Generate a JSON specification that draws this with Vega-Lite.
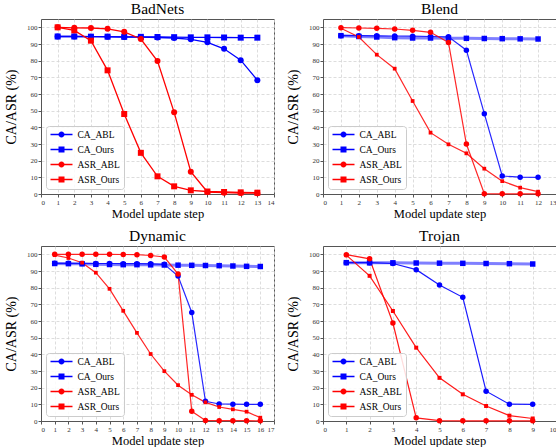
{
  "$schema": "https://vega.github.io/schema/vega-lite/v6.json",
  "padding": {"left": 4, "top": 1, "right": 0, "bottom": 0},
  "data": {"values": [
    {"d":"BadNets","k":"CA_ABL","s":1,"v":94.5},{"d":"BadNets","k":"CA_ABL","s":2,"v":94.5},{"d":"BadNets","k":"CA_ABL","s":3,"v":94.4},{"d":"BadNets","k":"CA_ABL","s":4,"v":94.3},{"d":"BadNets","k":"CA_ABL","s":5,"v":94.2},{"d":"BadNets","k":"CA_ABL","s":6,"v":94.1},{"d":"BadNets","k":"CA_ABL","s":7,"v":93.9},{"d":"BadNets","k":"CA_ABL","s":8,"v":93.6},{"d":"BadNets","k":"CA_ABL","s":9,"v":92.8},{"d":"BadNets","k":"CA_ABL","s":10,"v":91.0},{"d":"BadNets","k":"CA_ABL","s":11,"v":87.1},{"d":"BadNets","k":"CA_ABL","s":12,"v":80.3},{"d":"BadNets","k":"CA_ABL","s":13,"v":68.3},
    {"d":"BadNets","k":"CA_Ours","s":1,"v":94.5},{"d":"BadNets","k":"CA_Ours","s":2,"v":94.5},{"d":"BadNets","k":"CA_Ours","s":3,"v":94.4},{"d":"BadNets","k":"CA_Ours","s":4,"v":94.4},{"d":"BadNets","k":"CA_Ours","s":5,"v":94.3},{"d":"BadNets","k":"CA_Ours","s":6,"v":94.3},{"d":"BadNets","k":"CA_Ours","s":7,"v":94.2},{"d":"BadNets","k":"CA_Ours","s":8,"v":94.1},{"d":"BadNets","k":"CA_Ours","s":9,"v":94.0},{"d":"BadNets","k":"CA_Ours","s":10,"v":94.0},{"d":"BadNets","k":"CA_Ours","s":11,"v":93.9},{"d":"BadNets","k":"CA_Ours","s":12,"v":93.8},{"d":"BadNets","k":"CA_Ours","s":13,"v":93.8},
    {"d":"BadNets","k":"ASR_ABL","s":1,"v":100},{"d":"BadNets","k":"ASR_ABL","s":2,"v":99.7},{"d":"BadNets","k":"ASR_ABL","s":3,"v":99.6},{"d":"BadNets","k":"ASR_ABL","s":4,"v":99.1},{"d":"BadNets","k":"ASR_ABL","s":5,"v":97.3},{"d":"BadNets","k":"ASR_ABL","s":6,"v":93.0},{"d":"BadNets","k":"ASR_ABL","s":7,"v":79.8},{"d":"BadNets","k":"ASR_ABL","s":8,"v":49.0},{"d":"BadNets","k":"ASR_ABL","s":9,"v":13.4},{"d":"BadNets","k":"ASR_ABL","s":10,"v":1.2},{"d":"BadNets","k":"ASR_ABL","s":11,"v":0.8},{"d":"BadNets","k":"ASR_ABL","s":12,"v":0.6},{"d":"BadNets","k":"ASR_ABL","s":13,"v":0.5},
    {"d":"BadNets","k":"ASR_Ours","s":1,"v":100},{"d":"BadNets","k":"ASR_Ours","s":2,"v":98.2},{"d":"BadNets","k":"ASR_Ours","s":3,"v":92.0},{"d":"BadNets","k":"ASR_Ours","s":4,"v":74.2},{"d":"BadNets","k":"ASR_Ours","s":5,"v":48.0},{"d":"BadNets","k":"ASR_Ours","s":6,"v":24.7},{"d":"BadNets","k":"ASR_Ours","s":7,"v":10.6},{"d":"BadNets","k":"ASR_Ours","s":8,"v":4.6},{"d":"BadNets","k":"ASR_Ours","s":9,"v":2.2},{"d":"BadNets","k":"ASR_Ours","s":10,"v":1.5},{"d":"BadNets","k":"ASR_Ours","s":11,"v":1.2},{"d":"BadNets","k":"ASR_Ours","s":12,"v":1.0},{"d":"BadNets","k":"ASR_Ours","s":13,"v":0.8},

    {"d":"Blend","k":"CA_ABL","s":1,"v":95.0},{"d":"Blend","k":"CA_ABL","s":2,"v":95.0},{"d":"Blend","k":"CA_ABL","s":3,"v":94.9},{"d":"Blend","k":"CA_ABL","s":4,"v":94.8},{"d":"Blend","k":"CA_ABL","s":5,"v":94.7},{"d":"Blend","k":"CA_ABL","s":6,"v":94.5},{"d":"Blend","k":"CA_ABL","s":7,"v":94.3},{"d":"Blend","k":"CA_ABL","s":8,"v":86.3},{"d":"Blend","k":"CA_ABL","s":9,"v":48.2},{"d":"Blend","k":"CA_ABL","s":10,"v":10.8},{"d":"Blend","k":"CA_ABL","s":11,"v":10.1},{"d":"Blend","k":"CA_ABL","s":12,"v":10.0},
    {"d":"Blend","k":"CA_Ours","s":1,"v":95.0},{"d":"Blend","k":"CA_Ours","s":2,"v":94.5},{"d":"Blend","k":"CA_Ours","s":3,"v":94.2},{"d":"Blend","k":"CA_Ours","s":4,"v":93.8},{"d":"Blend","k":"CA_Ours","s":5,"v":93.6},{"d":"Blend","k":"CA_Ours","s":6,"v":93.6},{"d":"Blend","k":"CA_Ours","s":7,"v":93.5},{"d":"Blend","k":"CA_Ours","s":8,"v":93.4},{"d":"Blend","k":"CA_Ours","s":9,"v":93.3},{"d":"Blend","k":"CA_Ours","s":10,"v":93.2},{"d":"Blend","k":"CA_Ours","s":11,"v":93.1},{"d":"Blend","k":"CA_Ours","s":12,"v":93.0},
    {"d":"Blend","k":"ASR_ABL","s":1,"v":99.8},{"d":"Blend","k":"ASR_ABL","s":2,"v":99.6},{"d":"Blend","k":"ASR_ABL","s":3,"v":99.4},{"d":"Blend","k":"ASR_ABL","s":4,"v":99.0},{"d":"Blend","k":"ASR_ABL","s":5,"v":98.2},{"d":"Blend","k":"ASR_ABL","s":6,"v":97.0},{"d":"Blend","k":"ASR_ABL","s":7,"v":90.9},{"d":"Blend","k":"ASR_ABL","s":8,"v":30.0},{"d":"Blend","k":"ASR_ABL","s":9,"v":0.2},{"d":"Blend","k":"ASR_ABL","s":10,"v":0.1},{"d":"Blend","k":"ASR_ABL","s":11,"v":0.1},{"d":"Blend","k":"ASR_ABL","s":12,"v":0.1},
    {"d":"Blend","k":"ASR_Ours","s":1,"v":99.5},{"d":"Blend","k":"ASR_Ours","s":2,"v":94.2},{"d":"Blend","k":"ASR_Ours","s":3,"v":83.6},{"d":"Blend","k":"ASR_Ours","s":4,"v":75.2},{"d":"Blend","k":"ASR_Ours","s":5,"v":55.8},{"d":"Blend","k":"ASR_Ours","s":6,"v":36.8},{"d":"Blend","k":"ASR_Ours","s":7,"v":29.8},{"d":"Blend","k":"ASR_Ours","s":8,"v":24.4},{"d":"Blend","k":"ASR_Ours","s":9,"v":15.2},{"d":"Blend","k":"ASR_Ours","s":10,"v":7.7},{"d":"Blend","k":"ASR_Ours","s":11,"v":3.8},{"d":"Blend","k":"ASR_Ours","s":12,"v":1.4},

    {"d":"Dynamic","k":"CA_ABL","s":1,"v":94.6},{"d":"Dynamic","k":"CA_ABL","s":2,"v":94.6},{"d":"Dynamic","k":"CA_ABL","s":3,"v":94.5},{"d":"Dynamic","k":"CA_ABL","s":4,"v":94.5},{"d":"Dynamic","k":"CA_ABL","s":5,"v":94.5},{"d":"Dynamic","k":"CA_ABL","s":6,"v":94.4},{"d":"Dynamic","k":"CA_ABL","s":7,"v":94.4},{"d":"Dynamic","k":"CA_ABL","s":8,"v":94.3},{"d":"Dynamic","k":"CA_ABL","s":9,"v":94.0},{"d":"Dynamic","k":"CA_ABL","s":10,"v":87.0},{"d":"Dynamic","k":"CA_ABL","s":11,"v":65.1},{"d":"Dynamic","k":"CA_ABL","s":12,"v":11.8},{"d":"Dynamic","k":"CA_ABL","s":13,"v":10.2},{"d":"Dynamic","k":"CA_ABL","s":14,"v":10.1},{"d":"Dynamic","k":"CA_ABL","s":15,"v":10.0},{"d":"Dynamic","k":"CA_ABL","s":16,"v":10.0},
    {"d":"Dynamic","k":"CA_Ours","s":1,"v":94.5},{"d":"Dynamic","k":"CA_Ours","s":2,"v":94.4},{"d":"Dynamic","k":"CA_Ours","s":3,"v":94.3},{"d":"Dynamic","k":"CA_Ours","s":4,"v":94.0},{"d":"Dynamic","k":"CA_Ours","s":5,"v":93.9},{"d":"Dynamic","k":"CA_Ours","s":6,"v":93.8},{"d":"Dynamic","k":"CA_Ours","s":7,"v":93.8},{"d":"Dynamic","k":"CA_Ours","s":8,"v":93.7},{"d":"Dynamic","k":"CA_Ours","s":9,"v":93.6},{"d":"Dynamic","k":"CA_Ours","s":10,"v":93.5},{"d":"Dynamic","k":"CA_Ours","s":11,"v":93.4},{"d":"Dynamic","k":"CA_Ours","s":12,"v":93.3},{"d":"Dynamic","k":"CA_Ours","s":13,"v":93.2},{"d":"Dynamic","k":"CA_Ours","s":14,"v":93.0},{"d":"Dynamic","k":"CA_Ours","s":15,"v":92.8},{"d":"Dynamic","k":"CA_Ours","s":16,"v":92.7},
    {"d":"Dynamic","k":"ASR_ABL","s":1,"v":100},{"d":"Dynamic","k":"ASR_ABL","s":2,"v":100},{"d":"Dynamic","k":"ASR_ABL","s":3,"v":100},{"d":"Dynamic","k":"ASR_ABL","s":4,"v":100},{"d":"Dynamic","k":"ASR_ABL","s":5,"v":100},{"d":"Dynamic","k":"ASR_ABL","s":6,"v":99.9},{"d":"Dynamic","k":"ASR_ABL","s":7,"v":99.8},{"d":"Dynamic","k":"ASR_ABL","s":8,"v":99.3},{"d":"Dynamic","k":"ASR_ABL","s":9,"v":98.4},{"d":"Dynamic","k":"ASR_ABL","s":10,"v":88.2},{"d":"Dynamic","k":"ASR_ABL","s":11,"v":5.8},{"d":"Dynamic","k":"ASR_ABL","s":12,"v":0.3},{"d":"Dynamic","k":"ASR_ABL","s":13,"v":0.2},{"d":"Dynamic","k":"ASR_ABL","s":14,"v":0.2},{"d":"Dynamic","k":"ASR_ABL","s":15,"v":0.2},{"d":"Dynamic","k":"ASR_ABL","s":16,"v":0.1},
    {"d":"Dynamic","k":"ASR_Ours","s":1,"v":99.5},{"d":"Dynamic","k":"ASR_Ours","s":2,"v":97.8},{"d":"Dynamic","k":"ASR_Ours","s":3,"v":95.0},{"d":"Dynamic","k":"ASR_Ours","s":4,"v":89.0},{"d":"Dynamic","k":"ASR_Ours","s":5,"v":79.3},{"d":"Dynamic","k":"ASR_Ours","s":6,"v":66.1},{"d":"Dynamic","k":"ASR_Ours","s":7,"v":52.9},{"d":"Dynamic","k":"ASR_Ours","s":8,"v":40.2},{"d":"Dynamic","k":"ASR_Ours","s":9,"v":29.9},{"d":"Dynamic","k":"ASR_Ours","s":10,"v":21.5},{"d":"Dynamic","k":"ASR_Ours","s":11,"v":15.7},{"d":"Dynamic","k":"ASR_Ours","s":12,"v":11.2},{"d":"Dynamic","k":"ASR_Ours","s":13,"v":8.4},{"d":"Dynamic","k":"ASR_Ours","s":14,"v":7.0},{"d":"Dynamic","k":"ASR_Ours","s":15,"v":5.6},{"d":"Dynamic","k":"ASR_Ours","s":16,"v":2.0},

    {"d":"Trojan","k":"CA_ABL","s":1,"v":95.0},{"d":"Trojan","k":"CA_ABL","s":2,"v":95.0},{"d":"Trojan","k":"CA_ABL","s":3,"v":94.5},{"d":"Trojan","k":"CA_ABL","s":4,"v":90.8},{"d":"Trojan","k":"CA_ABL","s":5,"v":81.6},{"d":"Trojan","k":"CA_ABL","s":6,"v":74.2},{"d":"Trojan","k":"CA_ABL","s":7,"v":17.9},{"d":"Trojan","k":"CA_ABL","s":8,"v":10.1},{"d":"Trojan","k":"CA_ABL","s":9,"v":10.0},
    {"d":"Trojan","k":"CA_Ours","s":1,"v":95.0},{"d":"Trojan","k":"CA_Ours","s":2,"v":94.9},{"d":"Trojan","k":"CA_Ours","s":3,"v":94.9},{"d":"Trojan","k":"CA_Ours","s":4,"v":94.8},{"d":"Trojan","k":"CA_Ours","s":5,"v":94.7},{"d":"Trojan","k":"CA_Ours","s":6,"v":94.6},{"d":"Trojan","k":"CA_Ours","s":7,"v":94.5},{"d":"Trojan","k":"CA_Ours","s":8,"v":94.4},{"d":"Trojan","k":"CA_Ours","s":9,"v":94.2},
    {"d":"Trojan","k":"ASR_ABL","s":1,"v":99.8},{"d":"Trojan","k":"ASR_ABL","s":2,"v":97.3},{"d":"Trojan","k":"ASR_ABL","s":3,"v":58.8},{"d":"Trojan","k":"ASR_ABL","s":4,"v":1.9},{"d":"Trojan","k":"ASR_ABL","s":5,"v":0.2},{"d":"Trojan","k":"ASR_ABL","s":6,"v":0.1},{"d":"Trojan","k":"ASR_ABL","s":7,"v":0.1},{"d":"Trojan","k":"ASR_ABL","s":8,"v":0.1},{"d":"Trojan","k":"ASR_ABL","s":9,"v":0.1},
    {"d":"Trojan","k":"ASR_Ours","s":1,"v":99.5},{"d":"Trojan","k":"ASR_Ours","s":2,"v":87.1},{"d":"Trojan","k":"ASR_Ours","s":3,"v":66.0},{"d":"Trojan","k":"ASR_Ours","s":4,"v":44.0},{"d":"Trojan","k":"ASR_Ours","s":5,"v":25.9},{"d":"Trojan","k":"ASR_Ours","s":6,"v":16.0},{"d":"Trojan","k":"ASR_Ours","s":7,"v":9.0},{"d":"Trojan","k":"ASR_Ours","s":8,"v":3.2},{"d":"Trojan","k":"ASR_Ours","s":9,"v":1.5}
  ]},
  "columns": 2,
  "spacing": {"row": 8, "column": 7},
  "resolve": {"scale": {"color": "independent", "shape": "independent", "x": "independent", "y": "independent"}, "legend": {"color": "independent", "shape": "independent"}},
  "concat": [
    {
      "title": "BadNets",
      "width": 233, "height": 175,
      "transform": [{"filter": "datum.d === 'BadNets'"}],
      "encoding": {
        "x": {"field": "s", "type": "quantitative", "scale": {"domain": [0, 14], "nice": false}, "axis": {"values": [0,1,2,3,4,5,6,7,8,9,10,11,12,13,14], "title": "Model update step"}},
        "y": {"field": "v", "type": "quantitative", "scale": {"domain": [0, 105], "nice": false}, "axis": {"values": [0,10,20,30,40,50,60,70,80,90,100], "title": "CA/ASR (%)"}}
      },
      "layer": [
        {"mark": {"type": "point", "filled": true, "opacity": 0, "size": 64},
         "encoding": {
           "color": {"field": "k", "type": "nominal", "title": null, "scale": {"domain": ["CA_ABL","CA_Ours","ASR_ABL","ASR_Ours"], "range": ["#0000ff","#0000ff","#ff0000","#ff0000"]}},
           "shape": {"field": "k", "type": "nominal", "title": null, "scale": {"domain": ["CA_ABL","CA_Ours","ASR_ABL","ASR_Ours"], "range": [
             "M-1,-0.18H4.5V0.18H-1Z M2.5,0A0.75,0.75 0 1 1 1,0A0.75,0.75 0 1 1 2.5,0Z",
             "M-1,-0.18H4.5V0.18H-1Z M1,-0.75H2.5V0.75H1Z",
             "M-1,-0.18H4.5V0.18H-1Z M2.5,0A0.75,0.75 0 1 1 1,0A0.75,0.75 0 1 1 2.5,0Z",
             "M-1,-0.18H4.5V0.18H-1Z M1,-0.75H2.5V0.75H1Z"]}}}},
        {"mark": {"type": "line", "strokeWidth": 1.3},
         "encoding": {
           "detail": {"field": "k"},
           "color": {"condition": {"test": "indexof(datum.k, 'CA') === 0", "value": "#0000ff"}, "value": "#ff0000"}}},
        {"mark": {"type": "point", "filled": true, "opacity": 1, "size": 36},
         "encoding": {
           "color": {"condition": {"test": "indexof(datum.k, 'CA') === 0", "value": "#0000ff"}, "value": "#ff0000"},
           "shape": {"condition": {"test": "indexof(datum.k, 'Ours') >= 0", "value": "square"}, "value": "circle"}}}
      ]
    },
    {
      "title": "Blend",
      "width": 233, "height": 175,
      "transform": [{"filter": "datum.d === 'Blend'"}],
      "encoding": {
        "x": {"field": "s", "type": "quantitative", "scale": {"domain": [0, 13], "nice": false}, "axis": {"values": [0,1,2,3,4,5,6,7,8,9,10,11,12,13], "title": "Model update step"}},
        "y": {"field": "v", "type": "quantitative", "scale": {"domain": [0, 105], "nice": false}, "axis": {"values": [0,10,20,30,40,50,60,70,80,90,100], "title": "CA/ASR (%)"}}
      },
      "layer": [
        {"mark": {"type": "point", "filled": true, "opacity": 0, "size": 64},
         "encoding": {
           "color": {"field": "k", "type": "nominal", "title": null, "scale": {"domain": ["CA_ABL","CA_Ours","ASR_ABL","ASR_Ours"], "range": ["#0000ff","#0000ff","#ff0000","#ff0000"]}},
           "shape": {"field": "k", "type": "nominal", "title": null, "scale": {"domain": ["CA_ABL","CA_Ours","ASR_ABL","ASR_Ours"], "range": [
             "M-1,-0.18H4.5V0.18H-1Z M2.5,0A0.75,0.75 0 1 1 1,0A0.75,0.75 0 1 1 2.5,0Z",
             "M-1,-0.18H4.5V0.18H-1Z M1,-0.75H2.5V0.75H1Z",
             "M-1,-0.18H4.5V0.18H-1Z M2.5,0A0.75,0.75 0 1 1 1,0A0.75,0.75 0 1 1 2.5,0Z",
             "M-1,-0.18H4.5V0.18H-1Z M1,-0.75H2.5V0.75H1Z"]}}}},
        {"mark": {"type": "line"},
         "encoding": {
           "detail": {"field": "k"},
           "color": {"condition": {"test": "indexof(datum.k, 'CA') === 0", "value": "#0000ff"}, "value": "#ff0000"},
           "strokeWidth": {"condition": {"test": "datum.k === 'CA_Ours'", "value": 3}, "value": 1.2},
           "opacity": {"condition": {"test": "datum.k === 'CA_Ours'", "value": 0.5}, "value": 0.85}}},
        {"mark": {"type": "point", "filled": true, "opacity": 1},
         "encoding": {
           "color": {"condition": {"test": "indexof(datum.k, 'CA') === 0", "value": "#0000ff"}, "value": "#ff0000"},
           "shape": {"condition": {"test": "indexof(datum.k, 'Ours') >= 0", "value": "square"}, "value": "circle"},
           "size": {"condition": {"test": "datum.k === 'ASR_Ours'", "value": 14}, "value": 30}}}
      ]
    },
    {
      "title": "Dynamic",
      "width": 233, "height": 175,
      "transform": [{"filter": "datum.d === 'Dynamic'"}],
      "encoding": {
        "x": {"field": "s", "type": "quantitative", "scale": {"domain": [0, 17], "nice": false}, "axis": {"values": [0,1,2,3,4,5,6,7,8,9,10,11,12,13,14,15,16,17], "title": "Model update step"}},
        "y": {"field": "v", "type": "quantitative", "scale": {"domain": [0, 105], "nice": false}, "axis": {"values": [0,10,20,30,40,50,60,70,80,90,100], "title": "CA/ASR (%)"}}
      },
      "layer": [
        {"mark": {"type": "point", "filled": true, "opacity": 0, "size": 64},
         "encoding": {
           "color": {"field": "k", "type": "nominal", "title": null, "scale": {"domain": ["CA_ABL","CA_Ours","ASR_ABL","ASR_Ours"], "range": ["#0000ff","#0000ff","#ff0000","#ff0000"]}},
           "shape": {"field": "k", "type": "nominal", "title": null, "scale": {"domain": ["CA_ABL","CA_Ours","ASR_ABL","ASR_Ours"], "range": [
             "M-1,-0.18H4.5V0.18H-1Z M2.5,0A0.75,0.75 0 1 1 1,0A0.75,0.75 0 1 1 2.5,0Z",
             "M-1,-0.18H4.5V0.18H-1Z M1,-0.75H2.5V0.75H1Z",
             "M-1,-0.18H4.5V0.18H-1Z M2.5,0A0.75,0.75 0 1 1 1,0A0.75,0.75 0 1 1 2.5,0Z",
             "M-1,-0.18H4.5V0.18H-1Z M1,-0.75H2.5V0.75H1Z"]}}}},
        {"mark": {"type": "line"},
         "encoding": {
           "detail": {"field": "k"},
           "color": {"condition": {"test": "indexof(datum.k, 'CA') === 0", "value": "#0000ff"}, "value": "#ff0000"},
           "strokeWidth": {"condition": {"test": "datum.k === 'CA_Ours'", "value": 3}, "value": 1.2},
           "opacity": {"condition": {"test": "datum.k === 'CA_Ours'", "value": 0.5}, "value": 0.85}}},
        {"mark": {"type": "point", "filled": true, "opacity": 1},
         "encoding": {
           "color": {"condition": {"test": "indexof(datum.k, 'CA') === 0", "value": "#0000ff"}, "value": "#ff0000"},
           "shape": {"condition": {"test": "indexof(datum.k, 'Ours') >= 0", "value": "square"}, "value": "circle"},
           "size": {"condition": {"test": "datum.k === 'ASR_Ours'", "value": 14}, "value": 30}}}
      ]
    },
    {
      "title": "Trojan",
      "width": 233, "height": 175,
      "transform": [{"filter": "datum.d === 'Trojan'"}],
      "encoding": {
        "x": {"field": "s", "type": "quantitative", "scale": {"domain": [0, 10], "nice": false}, "axis": {"values": [0,1,2,3,4,5,6,7,8,9,10], "title": "Model update step"}},
        "y": {"field": "v", "type": "quantitative", "scale": {"domain": [0, 105], "nice": false}, "axis": {"values": [0,10,20,30,40,50,60,70,80,90,100], "title": "CA/ASR (%)"}}
      },
      "layer": [
        {"mark": {"type": "point", "filled": true, "opacity": 0, "size": 64},
         "encoding": {
           "color": {"field": "k", "type": "nominal", "title": null, "scale": {"domain": ["CA_ABL","CA_Ours","ASR_ABL","ASR_Ours"], "range": ["#0000ff","#0000ff","#ff0000","#ff0000"]}},
           "shape": {"field": "k", "type": "nominal", "title": null, "scale": {"domain": ["CA_ABL","CA_Ours","ASR_ABL","ASR_Ours"], "range": [
             "M-1,-0.18H4.5V0.18H-1Z M2.5,0A0.75,0.75 0 1 1 1,0A0.75,0.75 0 1 1 2.5,0Z",
             "M-1,-0.18H4.5V0.18H-1Z M1,-0.75H2.5V0.75H1Z",
             "M-1,-0.18H4.5V0.18H-1Z M2.5,0A0.75,0.75 0 1 1 1,0A0.75,0.75 0 1 1 2.5,0Z",
             "M-1,-0.18H4.5V0.18H-1Z M1,-0.75H2.5V0.75H1Z"]}}}},
        {"mark": {"type": "line"},
         "encoding": {
           "detail": {"field": "k"},
           "color": {"condition": {"test": "indexof(datum.k, 'CA') === 0", "value": "#0000ff"}, "value": "#ff0000"},
           "strokeWidth": {"condition": {"test": "datum.k === 'CA_Ours'", "value": 3}, "value": 1.2},
           "opacity": {"condition": {"test": "datum.k === 'CA_Ours'", "value": 0.5}, "value": 0.9}}},
        {"mark": {"type": "point", "filled": true, "opacity": 1},
         "encoding": {
           "color": {"condition": {"test": "indexof(datum.k, 'CA') === 0", "value": "#0000ff"}, "value": "#ff0000"},
           "shape": {"condition": {"test": "indexof(datum.k, 'Ours') >= 0", "value": "square"}, "value": "circle"},
           "size": {"condition": {"test": "datum.k === 'ASR_Ours'", "value": 16}, "value": 30}}}
      ]
    }
  ],
  "config": {
    "font": "Liberation Serif",
    "view": {"stroke": "#555555", "strokeWidth": 1},
    "title": {"font": "Liberation Serif", "fontSize": 15.5, "fontWeight": "normal", "color": "#000000", "offset": 2},
    "axis": {
      "labelFont": "Liberation Serif", "labelFontSize": 7, "labelColor": "#333333",
      "tickColor": "#555555", "tickSize": 3, "labelPadding": 1,
      "domainColor": "#555555",
      "gridColor": "#d4d4d4", "gridDash": [3, 2], "gridWidth": 0.8,
      "titleFont": "Liberation Serif", "titleFontWeight": "normal", "titleColor": "#000000"
    },
    "axisX": {"titleFontSize": 12.5, "titlePadding": 2},
    "axisY": {"titleFontSize": 14, "titlePadding": 8},
    "legend": {
      "orient": "bottom-left", "offset": 5, "padding": 3.5,
      "strokeColor": "#cccccc", "fillColor": "rgba(255,255,255,0.85)", "cornerRadius": 3,
      "labelFont": "Liberation Serif", "labelFontSize": 9.5, "labelColor": "#000000",
      "labelOffset": 18, "rowPadding": 2, "symbolSize": 64, "symbolOpacity": 1
    }
  }
}
